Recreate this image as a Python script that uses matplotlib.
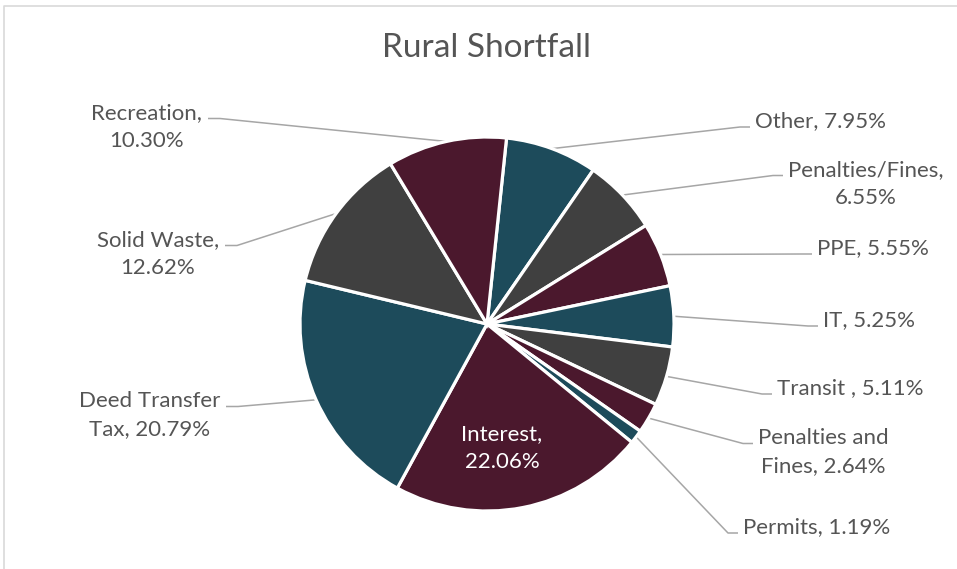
import matplotlib.pyplot as plt
import numpy as np

plt.rcParams['font.family'] = ['Lato', 'DejaVu Sans']

# data, clockwise from the top
categories = ['Other', 'Penalties/Fines', 'PPE', 'IT', 'Transit ', 'Penalties and Fines',
              'Permits', 'Interest', 'Deed Transfer Tax', 'Solid Waste', 'Recreation']
shares = [7.95, 6.55, 5.55, 5.25, 5.11, 2.64, 1.19, 22.06, 20.79, 12.62, 10.30]
colors = ['#1D4B5B', '#404040', '#4B182D', '#1D4B5B', '#404040', '#4B182D',
          '#1D4B5B', '#4B182D', '#1D4B5B', '#404040', '#4B182D']

# layout (pixels from top-left): words on first line, side, text edge x, block centre y
words_first = [0, 1, 0, 0, 0, 2, 0, 1, 2, 2, 1]
side = ['r', 'r', 'r', 'r', 'r', 'r', 'r', 'in', 'l', 'l', 'l']
label_x = [755, 788, 817, 823, 777, 758, 743, 502, 220, 219, 202]
label_y = [121, 184, 248, 320, 388, 452, 527, 448, 415, 254, 127]

W, H = 957, 569
cx, cy, R = 487, 324, 187

fig = plt.figure(figsize=(W / 100, H / 100), dpi=100)
ax = fig.add_axes([0, 0, 1, 1])

wedges, _ = ax.pie(shares, colors=colors, startangle=84, counterclock=False,
                   center=(cx, H - cy), radius=R,
                   wedgeprops=dict(edgecolor='white', linewidth=2.3))

ax.set_xlim(0, W)
ax.set_ylim(0, H)
ax.set_aspect('equal')
ax.axis('off')

txtcol = '#555555'
fs = 16
for i, w in enumerate(wedges):
    words = f"{categories[i]}, {shares[i]:.2f}%".split(' ')
    n = words_first[i]
    if n:
        lab = ' '.join(words[:n]) + '\n' + ' '.join(words[n:])
    else:
        lab = ' '.join(words)
    x, y = label_x[i], H - label_y[i]
    if side[i] == 'in':
        ax.text(x, y, lab, ha='center', va='center', multialignment='center',
                color='white', fontsize=fs, linespacing=1.55)
        continue
    ha = 'left' if side[i] == 'r' else 'right'
    ax.text(x, y, lab, ha=ha, va='center', multialignment='center',
            color=txtcol, fontsize=fs, linespacing=1.55)
    # leader line from wedge edge to label
    mid = np.deg2rad((w.theta1 + w.theta2) / 2)
    ex, ey = cx + R * np.cos(mid), H - cy + R * np.sin(mid)
    ay = y + (14.5 if n else 0) - 6
    if side[i] == 'r':
        ax_, bx = x - 5, x - 15
    else:
        ax_, bx = x + 6, x + 18
    ax.plot([ex, bx, ax_], [ey, ay, ay], color='#A6A6A6', lw=1.1,
            solid_capstyle='butt', zorder=0)

ax.text(cx, H - 48, 'Rural Shortfall', ha='center', va='center',
        color=txtcol, fontsize=24)

# chart area border
ax.plot([4, 4, W + 5], [-5, H - 6, H - 6], color='#D9D9D9', lw=1.2, clip_on=False)

fig.savefig('out.png', dpi=100)
